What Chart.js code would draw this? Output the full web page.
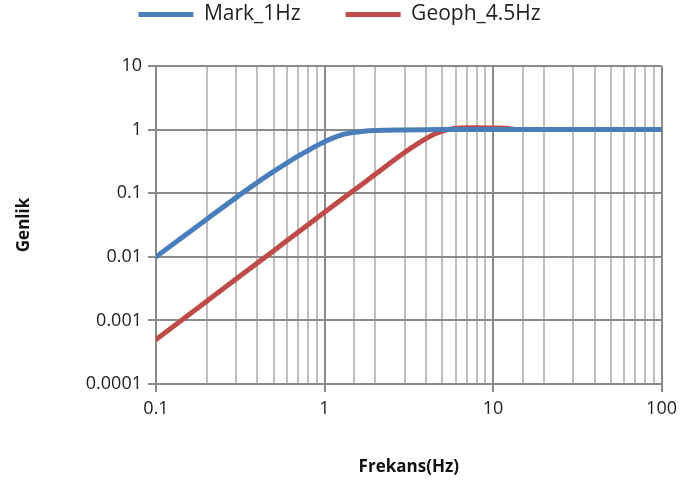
<!DOCTYPE html>
<html>
<head>
<meta charset="utf-8">
<script src="https://cdn.jsdelivr.net/npm/chart.js@4"></script>
<style>
  html, body { margin: 0; padding: 0; background: #fff; }
  #wrap { width: 683px; height: 481px; }
</style>
</head>
<body>
<div id="wrap"><canvas id="c" width="683" height="481"></canvas></div>
<script>
// values
const markFreq = [0.1, 0.2, 0.3, 0.4, 0.5, 0.6, 0.7, 0.8, 0.9, 1, 1.2, 1.4, 1.7, 2, 3, 5, 10, 100];
const markAmp  = [0.010, 0.039, 0.086, 0.148, 0.22, 0.30, 0.385, 0.47, 0.56, 0.645, 0.79, 0.88, 0.94, 0.97, 0.99, 1.0, 1.0, 1.0];

const geoFreq = [0.1, 0.2, 0.3, 0.5, 0.7, 1, 1.5, 2, 2.5, 3, 3.5, 4, 4.5, 5, 6, 7, 8, 10, 12, 14, 20, 50, 100];
const geoAmp  = [0.0005, 0.002, 0.0045, 0.0125, 0.0245, 0.050, 0.112, 0.198, 0.31, 0.44, 0.58, 0.72, 0.85, 0.95, 1.05, 1.07, 1.07, 1.06, 1.05, 1.0, 1.0, 1.0, 1.0];

const seriesNames = ["Mark_1Hz", "Geoph_4.5Hz"];
const seriesColors = ["#4A7EBB", "#BE4B48"];
const xTicks = [0.1, 1, 10, 100];
const yTicks = [0.0001, 0.001, 0.01, 0.1, 1, 10];

const pts = (xs, ys) => xs.map((x, i) => ({x: x, y: ys[i]}));
const isMajor = v => xTicks.some(t => Math.abs(t - v) < 1e-9);

const FONT = "'Open Sans', 'Noto Sans', sans-serif";
const LEGEND_PAD = 45;

// keep the legend band as tall as in the picture, and pull the items up
const legendBand = {
  id: "legendBand",
  beforeInit(chart) {
    const fit = chart.legend.fit;
    chart.legend.fit = function () { fit.call(this); this.height = 66; };
  },
  afterLayout(chart) {
    chart.legend.top -= (LEGEND_PAD - 4);
    chart.legend.left += 8;
    chart.legend.right += 8;
  }
};

new Chart(document.getElementById("c"), {
  type: "line",
  data: {
    datasets: [
      {label: seriesNames[0], data: pts(markFreq, markAmp), borderColor: seriesColors[0], backgroundColor: seriesColors[0]},
      {label: seriesNames[1], data: pts(geoFreq, geoAmp), borderColor: seriesColors[1], backgroundColor: seriesColors[1]}
    ].map(d => Object.assign(d, {
      borderWidth: 5, pointRadius: 0, borderCapStyle: "round", borderJoinStyle: "round",
      cubicInterpolationMode: "monotone", fill: false
    }))
  },
  options: {
    responsive: false,
    animation: false,
    layout: {padding: {top: 0, right: 20, left: 0, bottom: 0}},
    plugins: {
      legend: {
        position: "top",
        labels: {
          usePointStyle: true, pointStyle: "line", pointStyleWidth: 55,
          color: "#222", font: {family: FONT, size: 21}, padding: LEGEND_PAD
        }
      },
      tooltip: {enabled: false}
    },
    scales: {
      x: {
        type: "logarithmic", min: 0.1, max: 100,
        title: {display: true, text: "Frekans(Hz)", color: "#111", font: {family: FONT, size: 17, weight: "bold"}, padding: {top: 8}},
        ticks: {
          autoSkip: false, maxRotation: 0, color: "#222", font: {family: FONT, size: 18}, padding: 6,
          callback: v => isMajor(v) ? String(v) : ""
        },
        grid: {
          color: c => c.tick && isMajor(c.tick.value) ? "#8a8a8a" : "#c0c0c0",
          lineWidth: 2, tickLength: 8,
          tickColor: c => c.tick && isMajor(c.tick.value) ? "#8a8a8a" : "rgba(0,0,0,0)"
        },
        border: {color: "#8a8a8a", width: 2},
        afterFit: s => { s.height = 97; }
      },
      y: {
        type: "logarithmic", min: 0.0001, max: 10,
        title: {display: true, text: "Genlik", color: "#111", font: {family: FONT, size: 17, weight: "bold"}, padding: {top: 14, bottom: 4}},
        afterBuildTicks: s => { s.ticks = yTicks.map(v => ({value: v})); },
        ticks: {color: "#222", font: {family: FONT, size: 18}, padding: 6, callback: v => String(v)},
        grid: {color: "#8a8a8a", lineWidth: 2, tickLength: 8, tickColor: "#8a8a8a"},
        border: {color: "#8a8a8a", width: 2},
        afterFit: s => { s.width = 156; }
      }
    }
  },
  plugins: [legendBand]
});
</script>
</body>
</html>
